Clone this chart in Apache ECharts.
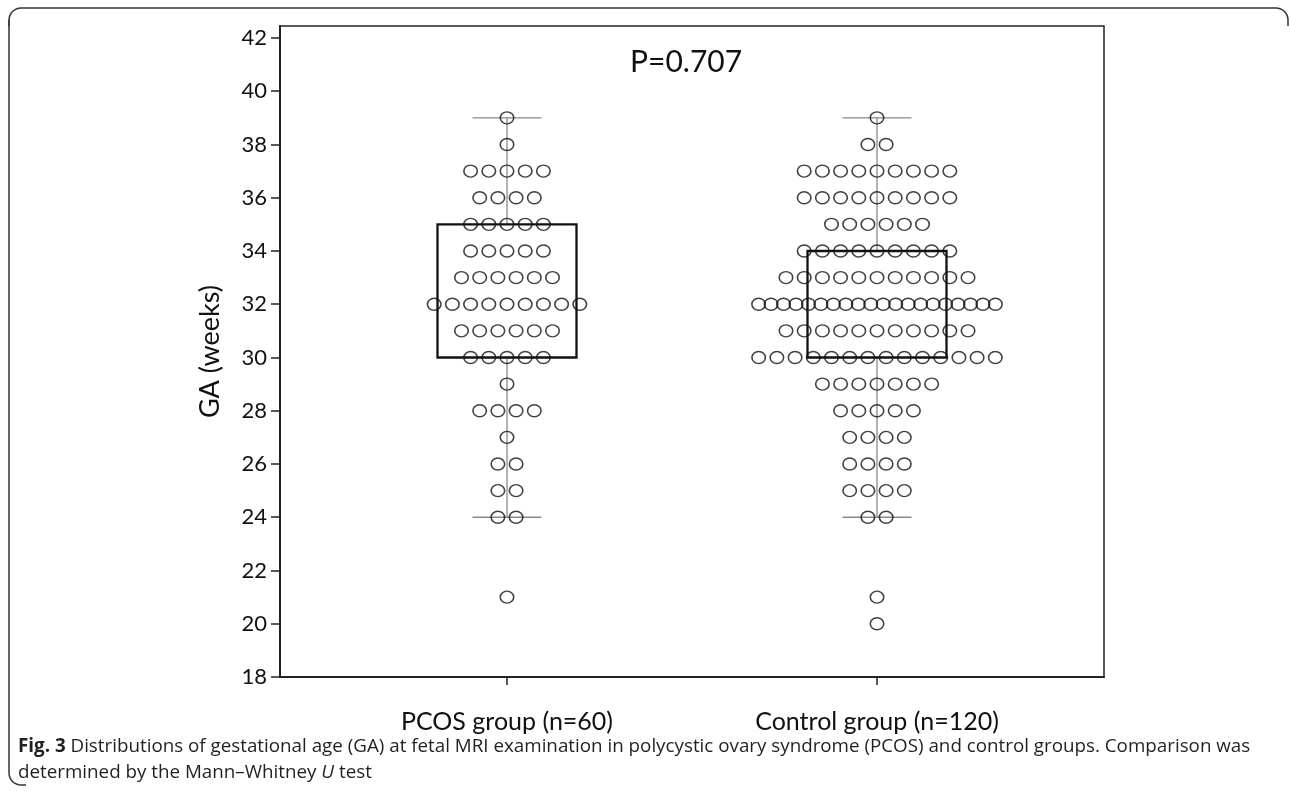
<!DOCTYPE html>
<html>
<head>
<meta charset="utf-8">
<script src="https://cdn.jsdelivr.net/npm/echarts@6/dist/echarts.min.js"></script>
<style>
html,body{margin:0;padding:0;background:#fff;}
#chart{width:1290px;height:791px;}
</style>
</head>
<body>
<div id="chart"></div>
<script>
// ---- Data ----
const groups = ['PCOS group (n=60)', 'Control group (n=120)'];
const groupPos = [1, 2];
const gaWeeks = [39, 38, 37, 36, 35, 34, 33, 32, 31, 30, 29, 28, 27, 26, 25, 24, 21, 20];
const pcosCounts = [1, 1, 5, 4, 5, 5, 6, 9, 6, 5, 1, 4, 1, 2, 2, 2, 1, 0];
const controlCounts = [1, 2, 9, 9, 6, 9, 11, 20, 11, 14, 7, 5, 4, 4, 4, 2, 1, 1];
// box stats: [q1, q3, whiskerLow, whiskerHigh]
const pcosBox = [30, 35, 24, 39];
const controlBox = [30, 34, 24, 39];
const yTicks = [18, 20, 22, 24, 26, 28, 30, 32, 34, 36, 38, 40, 42];
const pValueText = 'P=0.707';

// ---- Build dot layout (dot-plot stacking) ----
const baseStep = 0.0492, maxSpan = 0.64;
function dots(center, counts) {
  const out = [];
  gaWeeks.forEach((w, i) => {
    const n = counts[i];
    if (!n) return;
    const step = n > 1 ? Math.min(baseStep, maxSpan / (n - 1)) : 0;
    for (let k = 0; k < n; k++) out.push([center + (k - (n - 1) / 2) * step, w]);
  });
  return out;
}
const dotData = dots(groupPos[0], pcosCounts).concat(dots(groupPos[1], controlCounts));
const boxData = [[groupPos[0]].concat(pcosBox), [groupPos[1]].concat(controlBox)];

// rounded-corner helper for the page frame
function arc(cx, cy, r, a0, a1) {
  const pts = [];
  for (let i = 0; i <= 8; i++) {
    const a = a0 + (a1 - a0) * i / 8;
    pts.push([cx + r * Math.cos(a), cy + r * Math.sin(a)]);
  }
  return pts;
}
const PI = Math.PI;
const frameTop = [[9, 26]].concat(arc(21, 20, 12, PI, 1.5 * PI)).concat([[1276, 8]]).concat(arc(1276, 20, 12, 1.5 * PI, 2 * PI)).concat([[1288, 26]]);
const frameLeft = [[9, 20]].concat(arc(21, 773, 12, PI, 0.5 * PI)).concat([[26, 785]]);

const chart = echarts.init(document.getElementById('chart'));
const FONT = 'Lato';
chart.setOption({
  animation: false,
  backgroundColor: '#fff',
  grid: { left: 280, right: 186, top: 26, bottom: 114, show: true, borderColor: '#222', borderWidth: 1.5, backgroundColor: 'transparent' },
  xAxis: {
    type: 'value', min: 0.3865, max: 2.6135,
    splitLine: { show: false },
    axisLine: { show: true, onZero: false, lineStyle: { color: '#222', width: 2 } },
    axisTick: { show: true, customValues: groupPos, length: 8, lineStyle: { color: '#222', width: 1.5 } },
    axisLabel: {
      customValues: groupPos, margin: 32,
      formatter: v => groups[groupPos.indexOf(v)] || '',
      fontFamily: FONT, fontSize: 25, color: '#111'
    }
  },
  yAxis: {
    type: 'value', min: 18, max: 42.45,
    name: 'GA (weeks)', nameLocation: 'middle', nameRotate: 90, nameGap: 56,
    nameTextStyle: { fontFamily: FONT, fontSize: 27, color: '#111' },
    splitLine: { show: false },
    axisLine: { show: true, lineStyle: { color: '#222', width: 2 } },
    axisTick: { show: true, customValues: yTicks, length: 9, lineStyle: { color: '#222', width: 1.5 } },
    axisLabel: { customValues: yTicks, margin: 13, fontFamily: FONT, fontSize: 22, color: '#111' }
  },
  series: [
    {
      type: 'custom',
      data: boxData,
      z: 1,
      renderItem: function (params, api) {
        const x = api.value(0);
        const q1 = api.coord([x, api.value(1)]);
        const q3 = api.coord([x, api.value(2)]);
        const lo = api.coord([x, api.value(3)]);
        const hi = api.coord([x, api.value(4)]);
        const cx = q1[0];
        const halfBox = 69.5, halfCap = 34.5;
        const grey = { stroke: '#8a8a8a', lineWidth: 1.3 };
        return {
          type: 'group',
          children: [
            { type: 'line', shape: { x1: cx, y1: hi[1], x2: cx, y2: q3[1] }, style: grey },
            { type: 'line', shape: { x1: cx, y1: q1[1], x2: cx, y2: lo[1] }, style: grey },
            { type: 'line', shape: { x1: cx - halfCap, y1: hi[1], x2: cx + halfCap, y2: hi[1] }, style: grey },
            { type: 'line', shape: { x1: cx - halfCap, y1: lo[1], x2: cx + halfCap, y2: lo[1] }, style: grey },
            { type: 'rect', shape: { x: cx - halfBox, y: q3[1], width: halfBox * 2, height: q1[1] - q3[1] },
              style: { fill: 'none', stroke: '#111', lineWidth: 2.3 } }
          ]
        };
      }
    },
    {
      type: 'scatter',
      data: dotData,
      z: 3,
      symbol: 'circle',
      symbolSize: [13.5, 12],
      itemStyle: { color: 'rgba(0,0,0,0)', borderColor: '#111', borderWidth: 1.5 },
      emphasis: { disabled: true }
    }
  ],
  graphic: [
    {
      type: 'text', left: 630, top: 47, z: 10,
      style: { text: pValueText, font: '30px Lato', fill: '#111' }
    },
    {
      type: 'polyline', z: 10,
      shape: { points: frameTop },
      style: { fill: 'none', stroke: '#333', lineWidth: 1.5 }
    },
    {
      type: 'polyline', z: 10,
      shape: { points: frameLeft },
      style: { fill: 'none', stroke: '#333', lineWidth: 1.5 }
    },
    {
      type: 'text', left: 18, top: 734, z: 10,
      style: {
        text: '{b|Fig. 3} Distributions of gestational age (GA) at fetal MRI examination in polycystic ovary syndrome (PCOS) and control groups. Comparison was\ndetermined by the Mann–Whitney {i|U} test',
        font: '18.8px "Open Sans"', fill: '#231f20', lineHeight: 26,
        rich: {
          b: { fontWeight: 'bold', fontFamily: 'Open Sans', fontSize: 18.8, fill: '#231f20', lineHeight: 26 },
          i: { fontStyle: 'italic', fontFamily: 'Open Sans', fontSize: 18.8, fill: '#231f20', lineHeight: 26 }
        }
      }
    }
  ]
});
</script>
</body>
</html>
